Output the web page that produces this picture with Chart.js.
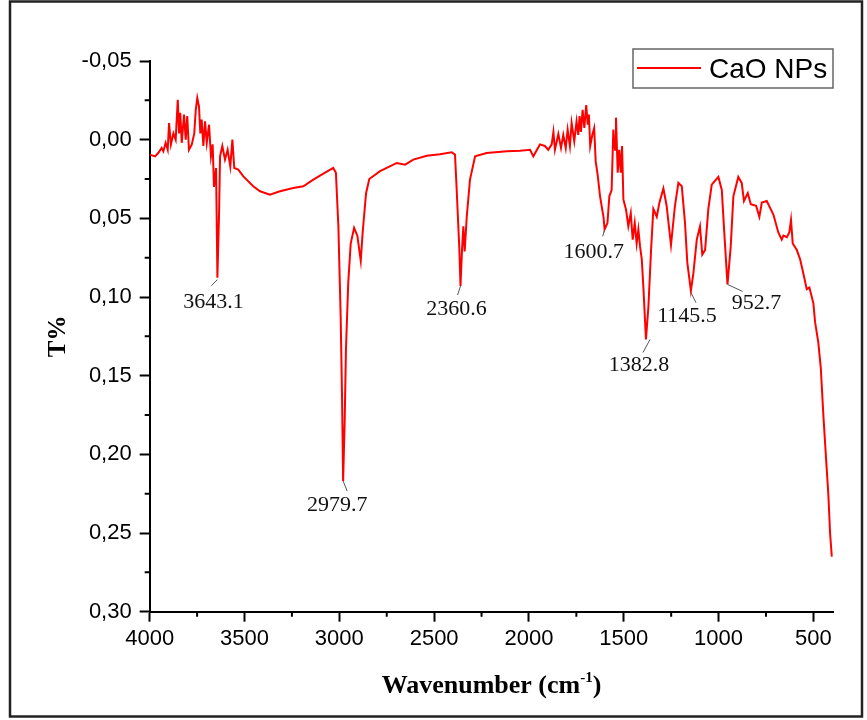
<!DOCTYPE html>
<html lang="en">
<head>
<meta charset="UTF-8">
<script src="https://cdn.jsdelivr.net/npm/chart.js@4/dist/chart.umd.min.js"></script>
<title>FTIR CaO NPs</title>
<style>
  body { margin: 0; background: #fff; }
</style>
</head>
<body>
<canvas id="ftir" width="867" height="720"></canvas>
<script>
// spectrum (wavenumber cm-1, T%)
var wavenumbers = [4000, 3972, 3955, 3937, 3928, 3916, 3905, 3898, 3888, 3875, 3863, 3852, 3845, 3839, 3831, 3819, 3810, 3802, 3793, 3778,
  3765, 3757, 3749, 3740, 3733, 3726, 3717, 3708, 3699, 3687, 3677, 3668, 3661, 3650, 3643, 3634, 3629, 3617, 3603, 3589,
  3575, 3564, 3554, 3533, 3506, 3454, 3418, 3366, 3313, 3243, 3190, 3137, 3084, 3032, 3018, 3005, 2993, 2986, 2980, 2972,
  2965, 2953, 2940, 2922, 2905, 2887, 2877, 2859, 2842, 2785, 2697, 2653, 2610, 2539, 2469, 2407, 2390, 2381, 2367, 2361,
  2353, 2346, 2339, 2328, 2311, 2284, 2223, 2117, 2047, 1994, 1977, 1942, 1916, 1898, 1880, 1871, 1863, 1845, 1831, 1819,
  1806, 1796, 1784, 1775, 1761, 1749, 1740, 1733, 1726, 1717, 1708, 1698, 1690, 1684, 1677, 1666, 1656, 1648, 1638, 1625,
  1607, 1601, 1586, 1576, 1564, 1555, 1546, 1541, 1532, 1524, 1516, 1509, 1502, 1488, 1476, 1463, 1453, 1442, 1432, 1423,
  1414, 1405, 1396, 1383, 1370, 1356, 1344, 1326, 1312, 1291, 1274, 1251, 1230, 1212, 1194, 1177, 1165, 1146, 1133, 1115,
  1098, 1086, 1071, 1054, 1036, 1001, 983, 971, 953, 936, 922, 896, 878, 866, 846, 830, 802, 785, 772, 746,
  711, 685, 667, 658, 640, 627, 618, 609, 588, 570, 553, 535, 521, 500, 491, 474, 461, 447, 433, 424,
  421, 412, 403];
var transmittance = [0.0095, 0.0106, 0.0085, 0.0053, 0.0074, 0.002, 0.0064, -0.0106, 0.003, -0.004, 0.000, -0.0254, -0.004, -0.017, 0.002, -0.016, 0.000, -0.015, 0.0064, 0.003,
  -0.004, -0.019, -0.0265, -0.021, -0.004, -0.0127, 0.004, -0.0116, 0.002, -0.0095, 0.0106, 0.003, 0.030, 0.018, 0.0877, 0.046, 0.0106, 0.004, 0.0127, 0.0064,
  0.017, 0.000, 0.018, 0.019, 0.0233, 0.0296, 0.0328, 0.035, 0.0328, 0.0307, 0.0296, 0.0254, 0.0216, 0.018, 0.021, 0.055, 0.112, 0.161, 0.217, 0.180,
  0.133, 0.091, 0.066, 0.056, 0.061, 0.077, 0.059, 0.034, 0.025, 0.020, 0.0148, 0.0159, 0.0127, 0.0102, 0.0093, 0.008, 0.0095, 0.032, 0.070, 0.093,
  0.070, 0.055, 0.071, 0.049, 0.0254, 0.0106, 0.0085, 0.0074, 0.0070, 0.0064, 0.0106, 0.003, 0.004, 0.0064, 0.003, -0.005, 0.0064, -0.0036, 0.0053, -0.003,
  0.0053, -0.0064, 0.004, -0.0106, 0.001, -0.0116, -0.003, -0.015, -0.005, -0.019, -0.0074, -0.022, -0.0095, -0.016, 0.004, -0.003, -0.0074, 0.0138, 0.022, 0.036,
  0.049, 0.057, 0.053, 0.036, 0.032, -0.0064, 0.0064, -0.014, 0.021, 0.0064, 0.021, 0.004, 0.038, 0.0445, 0.055, 0.0466, 0.0635, 0.053, 0.066, 0.057,
  0.068, 0.076, 0.095, 0.127, 0.106, 0.070, 0.044, 0.049, 0.040, 0.031, 0.042, 0.067, 0.042, 0.0275, 0.0296, 0.053, 0.078, 0.096, 0.085, 0.0635,
  0.055, 0.073, 0.070, 0.044, 0.0286, 0.0237, 0.032, 0.057, 0.092, 0.068, 0.036, 0.0237, 0.0275, 0.039, 0.034, 0.041, 0.042, 0.049, 0.040, 0.039,
  0.0476, 0.059, 0.0635, 0.061, 0.062, 0.059, 0.051, 0.066, 0.070, 0.076, 0.085, 0.095, 0.094, 0.104, 0.116, 0.129, 0.145, 0.176, 0.203, 0.220,
  0.226, 0.250, 0.265];

// labelled peaks
var peakWn = [3643.1, 2979.7, 2360.6, 1600.7, 1382.8, 1145.5, 952.7];
var peakT = [0.0877, 0.217, 0.093, 0.057, 0.127, 0.096, 0.092];

var xMajorTicks = [4000, 3500, 3000, 2500, 2000, 1500, 1000, 500];
var xMinorTicks = [3750, 3250, 2750, 2250, 1750, 1250, 750];
var yMajorTicks = [-0.05, 0, 0.05, 0.10, 0.15, 0.20, 0.25, 0.30];
var yMinorTicks = [-0.025, 0.025, 0.075, 0.125, 0.175, 0.225, 0.275];

var seriesName = 'CaO NPs';

// label placement relative to the peak: [text dx, text dy, leader x0, y0, x1, y1]
var peakLabelPos = [
  [-4, 30, 0, 2, -6, 8],
  [-6, 30, 0, 0, 4, 10],
  [-4, 29, 0, 0, -3, 9],
  [-11, 29, 0, 0, -2, 7],
  [-7, 32, 4, 0, -3, 13],
  [-4, 31, 0, 2, 5, 12],
  [29, 25, 0, 0, 15, 7]
];

var points = wavenumbers.map(function (w, i) { return { x: w, y: transmittance[i] }; });

var sansFont = "'Liberation Sans', Arial, sans-serif";
var serifFont = "'Liberation Serif', 'Times New Roman', serif";

var extras = {
  id: 'extras',
  beforeDraw: function (chart) {
    var ctx = chart.ctx;
    ctx.save();
    ctx.fillStyle = '#fff';
    ctx.fillRect(0, 0, chart.width, chart.height);
    ctx.strokeStyle = '#222';
    ctx.lineWidth = 2.5;
    ctx.strokeRect(10, 1.5, 852, 715);
    ctx.restore();
  },
  afterDraw: function (chart) {
    var ctx = chart.ctx;
    var xs = chart.scales.x, ys = chart.scales.y;
    ctx.save();

    // minor ticks
    ctx.strokeStyle = '#000';
    ctx.lineWidth = 2;
    ctx.beginPath();
    xMinorTicks.forEach(function (v) {
      var px = xs.getPixelForValue(v);
      ctx.moveTo(px, xs.top);
      ctx.lineTo(px, xs.top + 5);
    });
    yMinorTicks.forEach(function (v) {
      var py = ys.getPixelForValue(v);
      ctx.moveTo(ys.right, py);
      ctx.lineTo(ys.right - 5, py);
    });
    ctx.stroke();

    // peak labels
    ctx.font = '22px ' + serifFont;
    ctx.textAlign = 'center';
    ctx.textBaseline = 'alphabetic';
    peakWn.forEach(function (w, i) {
      var px = xs.getPixelForValue(w);
      var py = ys.getPixelForValue(peakT[i]);
      var p = peakLabelPos[i];
      ctx.strokeStyle = '#555';
      ctx.lineWidth = 1;
      ctx.beginPath();
      ctx.moveTo(px + p[2], py + p[3]);
      ctx.lineTo(px + p[4], py + p[5]);
      ctx.stroke();
      ctx.fillStyle = '#111';
      ctx.fillText(w.toFixed(1), px + p[0], py + p[1]);
    });

    // x axis title with superscript
    var cx = (chart.chartArea.left + chart.chartArea.right) / 2;
    var base = 693;
    var mainFont = 'bold 26px ' + serifFont;
    var supFont = 'bold 15px ' + serifFont;
    ctx.fillStyle = '#000';
    ctx.textAlign = 'left';
    ctx.font = mainFont;
    var w1 = ctx.measureText('Wavenumber (cm').width;
    var w3 = ctx.measureText(')').width;
    ctx.font = supFont;
    var w2 = ctx.measureText('-1').width;
    var x0 = cx - (w1 + w2 + w3) / 2;
    ctx.font = mainFont;
    ctx.fillText('Wavenumber (cm', x0, base);
    ctx.font = supFont;
    ctx.fillText('-1', x0 + w1, base - 11);
    ctx.font = mainFont;
    ctx.fillText(')', x0 + w1 + w2, base);

    // legend box
    ctx.strokeStyle = '#666';
    ctx.lineWidth = 1.5;
    ctx.strokeRect(633, 49, 200, 39);
    ctx.strokeStyle = chart.data.datasets[0].borderColor;
    ctx.lineWidth = 2;
    ctx.beginPath();
    ctx.moveTo(637, 68);
    ctx.lineTo(701, 68);
    ctx.stroke();
    ctx.fillStyle = '#000';
    ctx.font = '28px ' + sansFont;
    ctx.fillText(chart.data.datasets[0].label, 709, 78);

    ctx.restore();
  }
};

var ctx = document.getElementById('ftir').getContext('2d');

var chart = new Chart(ctx, {
  type: 'line',
  data: {
    datasets: [{
      label: seriesName,
      data: points,
      borderColor: '#ff0000',
      borderWidth: 2,
      pointRadius: 0,
      tension: 0,
      fill: false
    }]
  },
  options: {
    responsive: false,
    animation: false,
    layout: { padding: { left: 0, top: 61, right: 33.7, bottom: 0 } },
    plugins: {
      legend: { display: false },
      tooltip: { enabled: false }
    },
    scales: {
      x: {
        type: 'linear',
        reverse: true,
        min: 395,
        max: 4000,
        afterBuildTicks: function (scale) {
          scale.ticks = xMajorTicks.map(function (v) { return { value: v }; });
        },
        afterFit: function (scale) { scale.height = 108.3; },
        ticks: {
          color: '#000',
          padding: 4,
          maxRotation: 0,
          font: { family: sansFont, size: 22 },
          callback: function (v) { return String(v); }
        },
        grid: { drawOnChartArea: false, tickLength: 10, tickColor: '#000', tickWidth: 2 },
        border: { color: '#000', width: 2 }
      },
      y: {
        reverse: true,
        min: -0.05,
        max: 0.30,
        afterBuildTicks: function (scale) {
          scale.ticks = yMajorTicks.map(function (v) { return { value: v }; });
        },
        afterFit: function (scale) { scale.width = 149.7; },
        ticks: {
          color: '#000',
          padding: 8,
          font: { family: sansFont, size: 22 },
          callback: function (v) { return v.toFixed(2).replace('.', ','); }
        },
        title: {
          display: true,
          text: 'T%',
          color: '#000',
          font: { family: serifFont, size: 25, weight: 'bold' },
          padding: { top: 44, bottom: 0 }
        },
        grid: { drawOnChartArea: false, tickLength: 10, tickColor: '#000', tickWidth: 2 },
        border: { color: '#000', width: 2 }
      }
    }
  },
  plugins: [extras]
});
</script>
</body>
</html>
